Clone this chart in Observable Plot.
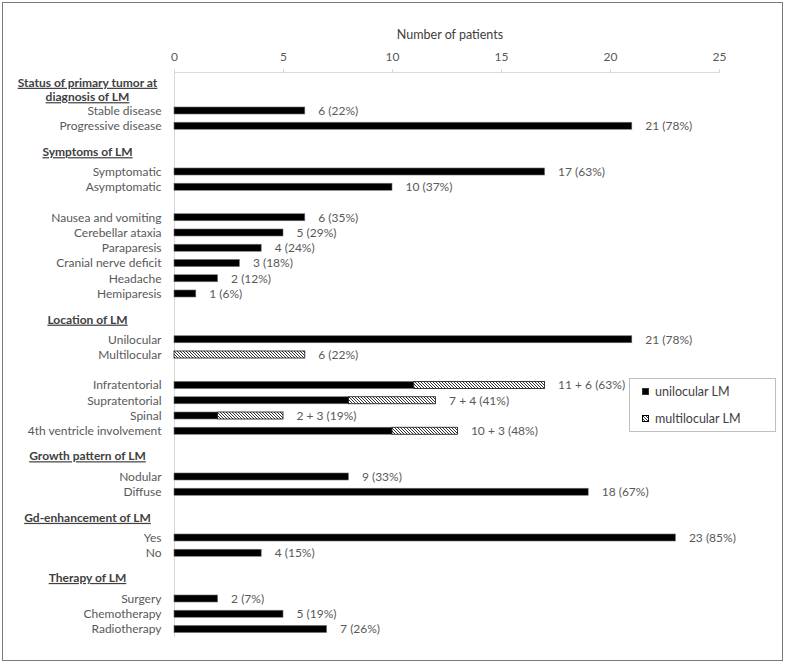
<!DOCTYPE html>
<html>
<head>
<meta charset="utf-8">
<script src="https://cdn.jsdelivr.net/npm/d3@7"></script>
<script src="https://cdn.jsdelivr.net/npm/@observablehq/plot@0.6"></script>
<style>
  body { margin: 0; background: #fff; font-family: Lato, "Open Sans", sans-serif; }
  #wrap { position: relative; width: 787px; height: 664px; }
  #border { position: absolute; left: 2px; top: 2px; width: 781px; height: 659px; box-sizing: border-box; border: 1.5px solid #7a7a7a; pointer-events: none; }
  #legend { position: absolute; left: 629px; top: 378px; width: 147px; height: 54px; box-sizing: border-box; border: 1px solid #bfbfbf; background: #fff; font-size: 12.5px; color: #404040; }
  .item { position: absolute; left: 12px; display: flex; align-items: center; height: 14px; }
  .item svg { margin-right: 6px; }
</style>
</head>
<body>
<div id="wrap">
  <div id="chart"></div>
  <div id="legend">
    <div class="item" style="top:5px"><svg width="7" height="7"><rect x="0.5" y="0.5" width="6" height="6" fill="#000" stroke="#333"/></svg>unilocular LM</div>
    <div class="item" style="top:32px"><svg width="7" height="7"><defs><pattern id="hatchL" patternUnits="userSpaceOnUse" width="3" height="3"><rect width="3" height="3" fill="#fff"/><path d="M-1,2 L1,4 M0,0 L3,3 M2,-1 L4,1" stroke="#000" stroke-width="0.8"/></pattern></defs><rect x="0.5" y="0.5" width="6" height="6" fill="url(#hatchL)" stroke="#000"/></svg>multilocular LM</div>
  </div>
  <div id="border"></div>
</div>
<script>
// ---- data ----
const categories = ["Stable disease", "Progressive disease", "Symptomatic", "Asymptomatic",
  "Nausea and vomiting", "Cerebellar ataxia", "Paraparesis", "Cranial nerve deficit", "Headache", "Hemiparesis",
  "Unilocular", "Multilocular", "Infratentorial", "Supratentorial", "Spinal", "4th ventricle involvement",
  "Nodular", "Diffuse", "Yes", "No", "Surgery", "Chemotherapy", "Radiotherapy"];
const slots = [0, 1, 4, 5, 7, 8, 9, 10, 11, 12, 15, 16, 18, 19, 20, 21, 24, 25, 28, 29, 32, 33, 34];
const unilocular = [6, 21, 17, 10, 6, 5, 4, 3, 2, 1, 21, 0, 11, 8, 2, 10, 8, 19, 23, 4, 2, 5, 7];
const multilocular = [0, 0, 0, 0, 0, 0, 0, 0, 0, 0, 0, 6, 6, 4, 3, 3, 0, 0, 0, 0, 0, 0, 0];
const valueLabels = ["6 (22%)", "21 (78%)", "17 (63%)", "10 (37%)", "6 (35%)", "5 (29%)", "4 (24%)",
  "3 (18%)", "2 (12%)", "1 (6%)", "21 (78%)", "6 (22%)", "11 + 6 (63%)", "7 + 4 (41%)", "2 + 3 (19%)",
  "10 + 3 (48%)", "9 (33%)", "18 (67%)", "23 (85%)", "4 (15%)", "2 (7%)", "5 (19%)", "7 (26%)"];
const headerNames = ["Status of primary tumor at\ndiagnosis of LM", "Symptoms of LM", "Location of LM",
  "Growth pattern of LM", "Gd-enhancement of LM", "Therapy of LM"];
const headerSlots = [-1.42, 2.66, 13.64, 22.6, 26.64, 30.58];
const xTicks = [0, 5, 10, 15, 20, 25];
const axisTitle = "Number of patients";

// ---- build ----
const rows = categories.map((name, i) => ({name, slot: slots[i], uni: unilocular[i], multi: multilocular[i], label: valueLabels[i]}));
const headers = headerNames.map((name, i) => ({name, slot: headerSlots[i]}));
const half = 0.23;      // half bar thickness in slot units
const axisSlot = -2.52; // slot level of the top axis line

const font = "Lato, 'Open Sans', sans-serif";
const chart = Plot.plot({
  width: 787,
  height: 664,
  marginLeft: 174,
  marginRight: 68,
  marginTop: 72,
  marginBottom: 27,
  style: {fontFamily: font, fontSize: "12px", background: "transparent"},
  x: {domain: [0, 25]},
  y: {type: "linear", domain: [0, 34], range: [110.5, 629], axis: null},
  marks: [
    Plot.ruleX([0], {stroke: "#d9d9d9", strokeWidth: 1}),
    Plot.ruleY([axisSlot], {x1: 0, x2: 25, stroke: "#d9d9d9", strokeWidth: 1}),
    Plot.axisX({anchor: "top", ticks: xTicks, tickSize: 4, tickPadding: 8, stroke: "#d9d9d9", fill: "#595959", fontSize: 12, label: null}),
    Plot.text([axisTitle], {frameAnchor: "top", dy: -38, dx: 3, fill: "#404040", fontSize: 12.5, lineAnchor: "middle"}),
    Plot.rect(rows.filter(d => d.uni > 0), {x1: 0, x2: "uni", y1: d => d.slot - half, y2: d => d.slot + half, fill: "#000", stroke: "#6f6f6f", strokeWidth: 0.6}),
    Plot.rect(rows.filter(d => d.multi > 0), {x1: "uni", x2: d => d.uni + d.multi, y1: d => d.slot - half, y2: d => d.slot + half, fill: "url(#hatch)", stroke: "#111", strokeWidth: 0.8}),
    Plot.text(rows, {x: 0, y: "slot", text: "name", textAnchor: "end", dx: -13, fill: "#595959", fontSize: 12}),
    Plot.text(rows, {x: d => d.uni + d.multi, y: "slot", text: "label", textAnchor: "start", dx: 13, fill: "#595959", fontSize: 12}),
    Plot.text(headers, {frameAnchor: "left", y: "slot", text: "name", textAnchor: "middle", dx: -87, fill: "#404041", fontWeight: "bold", fontSize: 12, lineHeight: 1.2})
  ]
});

// hatch pattern
const svg = d3.select(chart);
const defs = svg.insert("defs", ":first-child");
const pat = defs.append("pattern").attr("id", "hatch").attr("patternUnits", "userSpaceOnUse").attr("width", 3).attr("height", 3);
pat.append("rect").attr("width", 3).attr("height", 3).attr("fill", "#fff");
pat.append("path").attr("d", "M-1,2 L1,4 M0,0 L3,3 M2,-1 L4,1").attr("stroke", "#000").attr("stroke-width", 0.8);
// underline headers
svg.selectAll('g[fill="#404041"] text').attr("text-decoration", "underline");

document.getElementById("chart").appendChild(chart);
</script>
</body>
</html>
